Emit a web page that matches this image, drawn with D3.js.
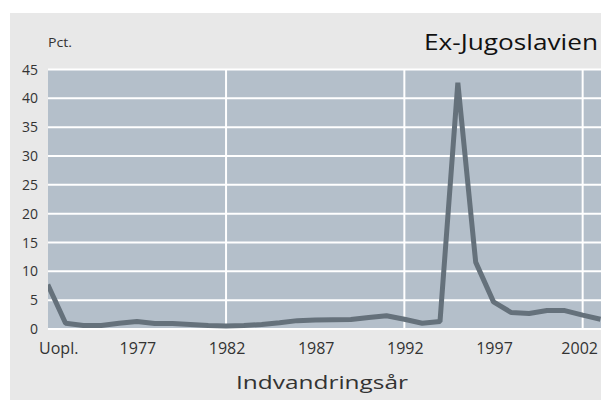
<!DOCTYPE html>
<html><head><meta charset="utf-8">
<script src="https://cdn.jsdelivr.net/npm/d3@7"></script>
<style>body{margin:0;background:#fff;} svg{display:block;} text{font-family:"Open Sans",sans-serif;}</style>
</head><body>
<svg id="c" width="601" height="401"></svg>
<script>
const categories = ["Uopl.","1973","1974","1975","1976","1977","1978","1979","1980","1981","1982","1983","1984","1985","1986","1987","1988","1989","1990","1991","1992","1993","1994","1995","1996","1997","1998","1999","2000","2001","2002","2003"];
const values = [7.7,1.0,0.6,0.6,1.0,1.3,0.95,0.95,0.8,0.6,0.5,0.6,0.8,1.1,1.45,1.55,1.6,1.65,2.0,2.3,1.7,1.0,1.3,42.7,11.6,4.7,2.85,2.7,3.2,3.2,2.4,1.7];
const xTickLabels = ["Uopl.","1977","1982","1987","1992","1997","2002"];
const xGridLabels = ["1982","1992","2002"];
const yTicks = [0,5,10,15,20,25,30,35,40,45];
const title = "Ex-Jugoslavien";
const yUnit = "Pct.";
const xTitle = "Indvandringsår";

(function(){
const svg = d3.select("#c");
svg.append("rect").attr("x",10).attr("y",13).attr("width",591).attr("height",387).attr("fill","#e8e8e8");

const pL = 48, pR = 601, pT = 69.5, pB = 329;
const x = d3.scalePoint().domain(categories).range([47.75, 47.75 + 31*17.83]);
const y = d3.scaleLinear().domain([0,45]).range([pB, pT]);

svg.append("rect").attr("x",pL).attr("y",pT).attr("width",pR-pL).attr("height",pB-pT).attr("fill","#b4bfca");

svg.append("g").selectAll("line").data(yTicks).join("line")
  .attr("x1",pL).attr("x2",pR).attr("y1",d=>y(d)).attr("y2",d=>y(d))
  .attr("stroke","#fff").attr("stroke-width",2);
svg.append("g").selectAll("line").data(xGridLabels).join("line")
  .attr("x1",d=>x(d)).attr("x2",d=>x(d)).attr("y1",pT).attr("y2",pB)
  .attr("stroke","#fff").attr("stroke-width",2);

svg.append("defs").append("clipPath").attr("id","clip").append("rect")
  .attr("x",pL).attr("y",0).attr("width",pR-pL).attr("height",pB+10);
const line = d3.line().x((d,i)=>x(categories[i])).y(d=>y(d));
svg.append("path").datum(values).attr("d",line).attr("clip-path","url(#clip)")
  .attr("fill","none").attr("stroke","#65717b").attr("stroke-width",5)
  .attr("stroke-linejoin","bevel");

svg.append("g").selectAll("text").data(yTicks).join("text")
  .attr("x",38).attr("y",d=>y(d)).attr("dy","0.36em").attr("text-anchor","end")
  .attr("font-size",14).attr("fill","#333").text(d=>d);

const shift = {"Uopl.":11, "2002":-3};
svg.append("g").selectAll("text").data(xTickLabels).join("text")
  .attr("x",d=>x(d) + (shift[d]!==undefined?shift[d]:1)).attr("y",354).attr("text-anchor","middle")
  .attr("font-size",16).attr("fill","#333").text(d=>d);

svg.append("text").attr("x",48).attr("y",47).attr("font-size",12).attr("fill","#333")
  .attr("textLength",24).attr("lengthAdjust","spacingAndGlyphs").text(yUnit);
svg.append("text").attr("x",424).attr("y",50).attr("font-size",21).attr("fill","#111")
  .attr("textLength",174).attr("lengthAdjust","spacingAndGlyphs").text(title);
svg.append("text").attr("x",236).attr("y",389).attr("font-size",18).attr("fill","#333")
  .attr("textLength",172).attr("lengthAdjust","spacingAndGlyphs").text(xTitle);
})();
</script>
</body></html>
